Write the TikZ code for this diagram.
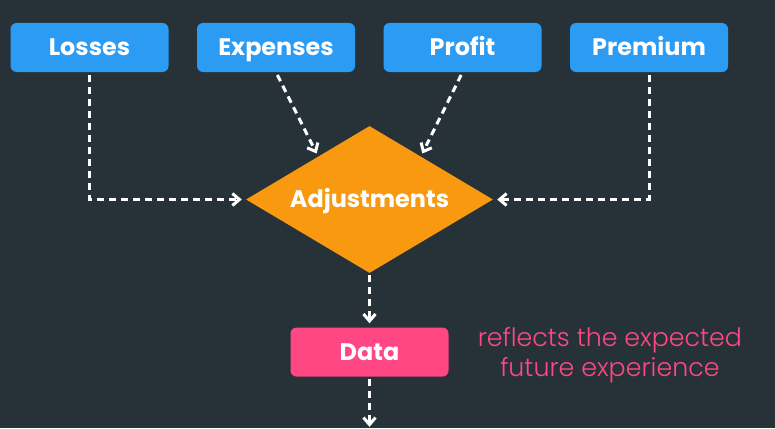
\documentclass[tikz,border=0pt]{standalone}
\usepackage{fontspec}
\setmainfont{Poppins}
\newfontfamily\lightfont{Poppins Light}
\usetikzlibrary{arrows.meta,positioning,shapes.geometric}
\definecolor{bg}{HTML}{263238}
\definecolor{blue}{HTML}{2B9BF4}
\definecolor{orange}{HTML}{F9990F}
\definecolor{pink}{HTML}{FF4784}
\tikzset{
  item/.style={rounded corners=0.15cm,fill=blue,text=white,minimum width=3.95cm,minimum height=1.225cm,inner sep=0pt,text height=0.42cm,text depth=0pt,font=\bfseries\fontsize{17}{20}\selectfont},
  result/.style={item,fill=pink},
  decision/.style={diamond,aspect=1.68,fill=orange,text=white,minimum width=6.175cm,minimum height=3.675cm,inner sep=0pt,text height=0.42cm,text depth=0pt,font=\bfseries\fontsize{17}{20}\selectfont},
  note/.style={font=\lightfont\fontsize{18}{21.3}\selectfont,text=pink,align=center},
  flow/.style={draw=white,line width=0.075cm,dash pattern=on 0.175cm off 0.125cm,-{Straight Barb[length=0.175cm,width=0.3cm]}}
}
\begin{document}
\begin{tikzpicture}[x=1cm,y=1cm]
\fill[bg] (0,0) rectangle (19.375,10.7);
\path[use as bounding box] (0,0) rectangle (19.375,10.7);
\foreach \x/\nm/\txt in {2.2375/los/Losses,6.9/exp/Expenses,11.5625/pro/Profit,16.225/pre/Premium}
  \node[item] (\nm) at (\x,9.5125) {\txt};
\node[decision] (adj) at (9.2375,5.7125) {Adjustments};
\node[result,below=1.35cm of adj] (data) {Data};
\node[note,right=0.6cm of data,yshift=-0.07cm] (why) {reflects the expected\\future experience};
\coordinate[below=1.25cm of data.south] (out);
\draw[flow,shorten <=0.075cm,shorten >=0.1cm] (los.south) |- (adj.west);
\draw[flow,shorten <=0.075cm,shorten >=0.08cm] (exp.south) -- (adj.140);
\draw[flow,shorten <=0.075cm,shorten >=0.08cm] (pro.south) -- (adj.40);
\draw[flow,shorten <=0.075cm,shorten >=0.1cm] (pre.south) |- (adj.east);
\draw[flow,shorten <=0.05cm,shorten >=0.1cm] (adj.south) -- (data.north);
\draw[flow,shorten <=0.05cm] (data.south) -- (out);
\end{tikzpicture}
\end{document}
